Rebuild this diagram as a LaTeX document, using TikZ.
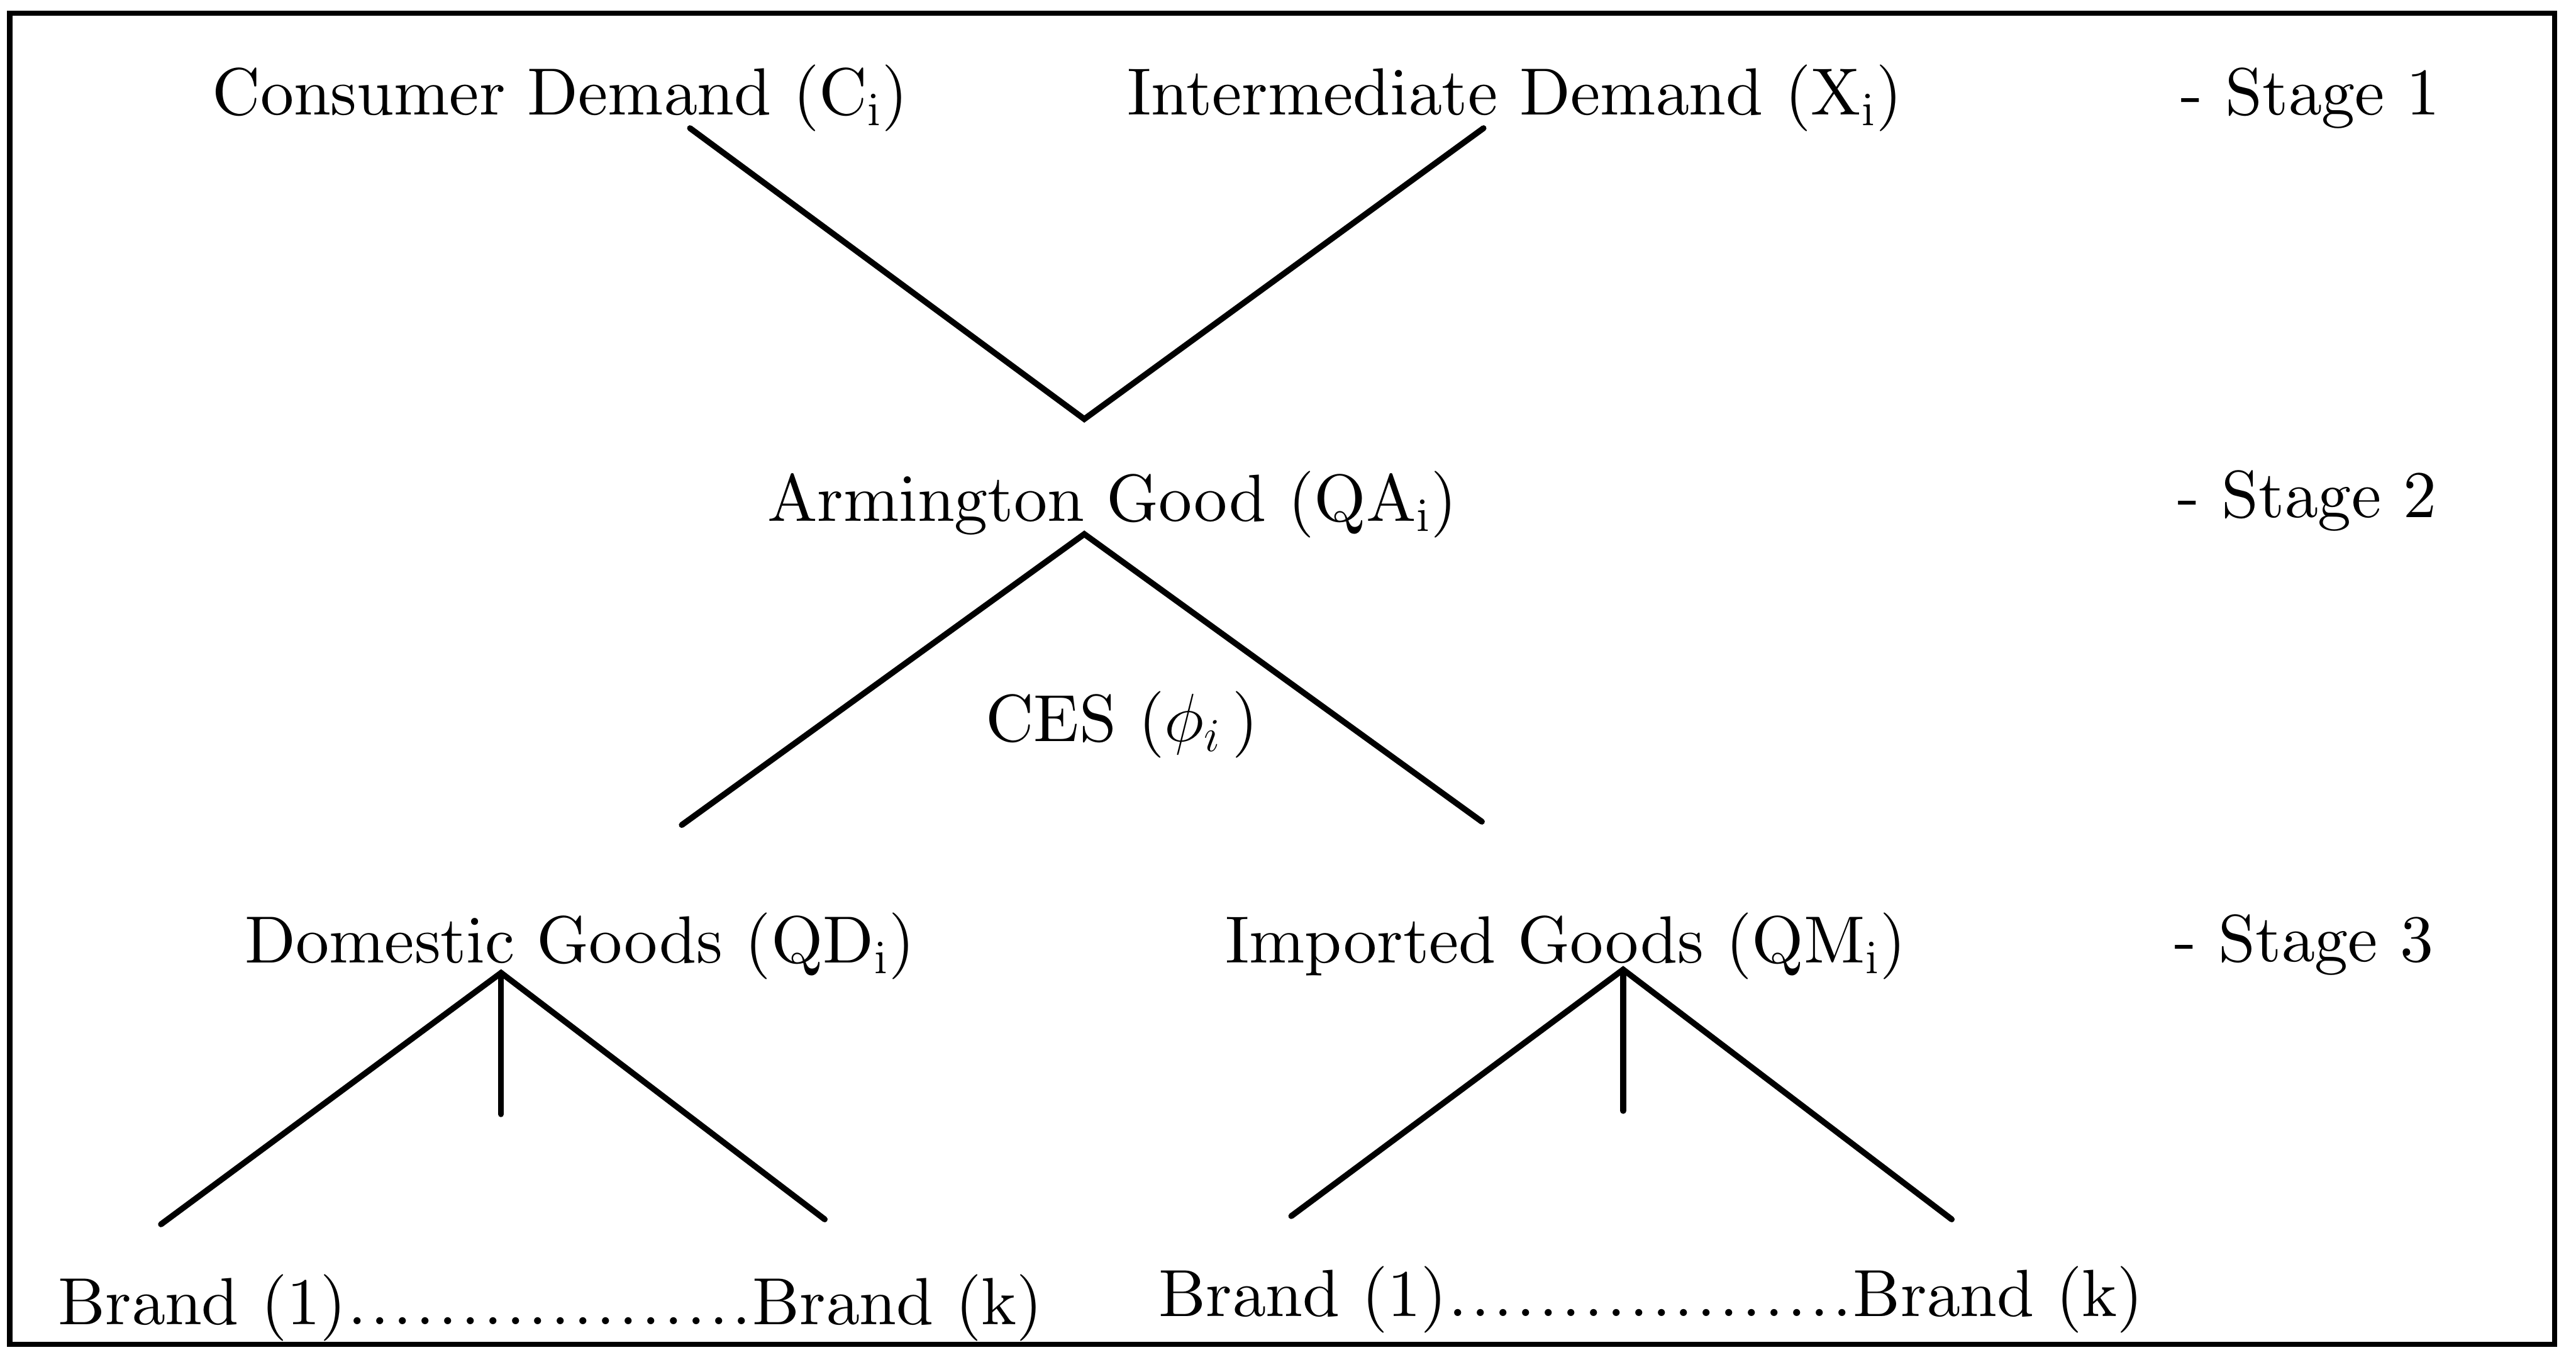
\documentclass[tikz,border=0pt]{standalone}
\usetikzlibrary{calc}
% ten-point Computer Modern design, enlarged
\font\labelrm=cmr10 at 20.3pt
\tikzset{
  lbl/.style={font=\fontsize{20.3}{24}\selectfont\labelrm, inner sep=0pt, anchor=base},
  stagelbl/.style={lbl, anchor=base west},
  branch/.style={line width=1.8pt, line cap=round},
  framebox/.style={line width=1.6pt}
}
% subscript set upright, as in (C_i)
\newcommand{\lsub}[1]{$_{\mathrm{#1}}$}
% a run of 18 evenly spaced dots between the brand labels
\newcommand{\dotrun}{\hbox to 124pt{\xleaders\hbox to 6.88pt{\hss.\hss}\hfill}}
\begin{document}
\begin{tikzpicture}[x=0.5pt,y=-0.5pt]
\useasboundingbox (0,0) rectangle (1568,821.2);
\draw[framebox] (6,8) rectangle (1555,818);

% stage 1
\node[lbl] (cons) at (341,70) {Consumer Demand (C\lsub{i})};
\node[lbl] (inter) at (922,70) {Intermediate Demand (X\lsub{i})};
\node[stagelbl] (s1) at (1327,70) {- Stage 1};

% stage 2
\node[lbl] (arm) at (677,317) {Armington Good (QA\lsub{i})};
\node[lbl] (ces) at (683,451) {CES ($\phi_i$\,)};
\node[stagelbl] (s2) at (1325,315) {- Stage 2};

% stage 3
\node[lbl] (dom) at (353,586) {Domestic Goods (QD\lsub{i})};
\node[lbl] (imp) at (953,586) {Imported Goods (QM\lsub{i})};
\node[stagelbl] (s3) at (1323,585) {- Stage 3};

% brands
\node[lbl, anchor=base west] (bdom) at (35,806) {Brand (1)\dotrun Brand (k)};
\node[lbl, anchor=base west] (bimp) at (705,801) {Brand (1)\dotrun Brand (k)};

% branch end points
\coordinate (consFoot) at (420,78);
\coordinate (interFoot) at (903,78);
\coordinate (join) at (660,255);
\coordinate (armTip) at (660,325);
\coordinate (domTop) at (415,502);
\coordinate (impTop) at (902,500);
\coordinate (domTip) at (305,592);
\coordinate (domL) at (98,745);
\coordinate (domM) at (305,678);
\coordinate (domR) at (502,742);
\coordinate (impTip) at (988,590);
\coordinate (impL) at (786,740);
\coordinate (impM) at (988,676);
\coordinate (impR) at (1188,742);

% stage 1 -> stage 2
\draw[branch] (consFoot) -- (join) -- (interFoot);
% Armington nest
\draw[branch] (domTop) -- (armTip) -- (impTop);
% brand nests
\draw[branch] (domL) -- (domTip) -- (domR);
\draw[branch] (domTip) -- (domM);
\draw[branch] (impL) -- (impTip) -- (impR);
\draw[branch] (impTip) -- (impM);
\end{tikzpicture}
\end{document}
